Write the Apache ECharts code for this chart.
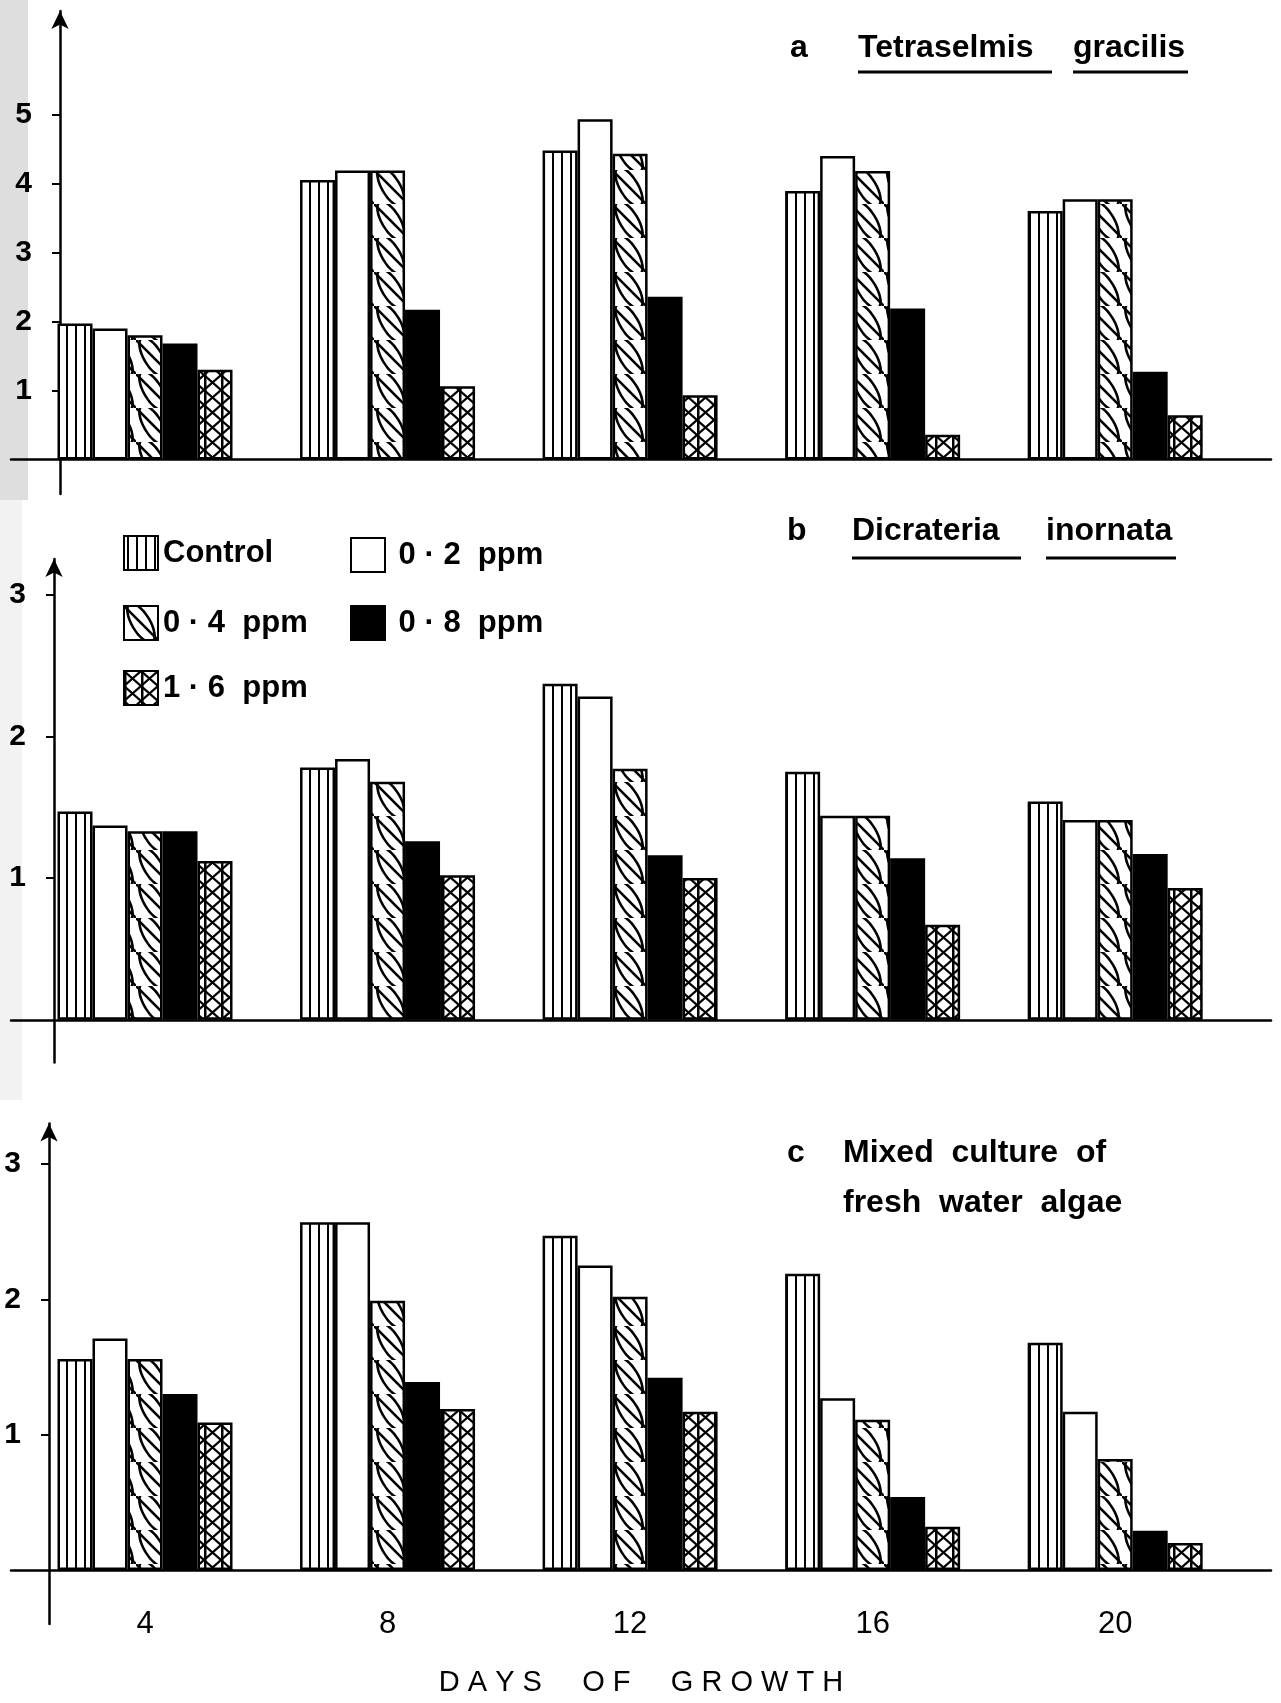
<!DOCTYPE html>
<html>
<head>
<meta charset="utf-8">
<script src="https://cdn.jsdelivr.net/npm/echarts@6/dist/echarts.min.js"></script>
<style>
html,body{margin:0;padding:0;background:#fff;}
#chart{width:1281px;height:1703px;}
</style>
</head>
<body>
<div id="chart"></div>
<script>
// ---- data ----
const days = [4, 8, 12, 16, 20];
const seriesNames = ['Control', '0 · 2  ppm', '0 · 4  ppm', '0 · 8  ppm', '1 · 6  ppm'];
const yTicksA = [1, 2, 3, 4, 5];
const yTicksBC = [1, 2, 3];

// a  Tetraselmis gracilis
const tetraControl = [1.97, 4.05, 4.48, 3.89, 3.60];
const tetra02 = [1.90, 4.19, 4.93, 4.40, 3.77];
const tetra04 = [1.80, 4.19, 4.43, 4.18, 3.77];
const tetra08 = [1.68, 2.17, 2.36, 2.19, 1.27];
const tetra16 = [1.30, 1.06, 0.93, 0.36, 0.64];

// b  Dicrateria inornata
const dicControl = [1.47, 1.78, 2.37, 1.75, 1.54];
const dic02 = [1.37, 1.84, 2.28, 1.44, 1.41];
const dic04 = [1.33, 1.68, 1.77, 1.44, 1.41];
const dic08 = [1.33, 1.26, 1.16, 1.14, 1.17];
const dic16 = [1.12, 1.02, 1.00, 0.67, 0.93];

// c  Mixed culture of fresh water algae
const mixControl = [1.56, 2.57, 2.47, 2.19, 1.68];
const mix02 = [1.71, 2.57, 2.25, 1.27, 1.17];
const mix04 = [1.56, 1.99, 2.02, 1.11, 0.82];
const mix08 = [1.30, 1.39, 1.42, 0.54, 0.29];
const mix16 = [1.09, 1.19, 1.17, 0.32, 0.20];

const panels = [
  [tetraControl, tetra02, tetra04, tetra08, tetra16],
  [dicControl, dic02, dic04, dic08, dic16],
  [mixControl, mix02, mix04, mix08, mix16]
];

// ---- patterns ----
function tile(w, h, draw) {
  const c = document.createElement('canvas');
  c.width = w; c.height = h;
  const g = c.getContext('2d');
  g.fillStyle = '#fff'; g.fillRect(0, 0, w, h);
  g.strokeStyle = '#000'; g.fillStyle = '#000';
  draw(g, w, h);
  return c;
}
const pVert = tile(9, 10, (g, w, h) => { g.fillRect(3, 0, 2, h); });
const pLens = tile(34, 34, (g, w, h) => {
  g.lineWidth = 2.6;
  g.beginPath(); g.moveTo(-2, -2); g.lineTo(w + 2, h + 2); g.stroke();
  g.save(); g.translate(w / 2, h / 2); g.rotate(Math.atan2(h, w) + 0.25);
  g.beginPath(); g.ellipse(0, 0, 22, 9, 0, 0, Math.PI * 2); g.stroke();
  g.restore();
});
const pCross = tile(17, 15, (g, w, h) => {
  g.lineWidth = 2.2;
  g.beginPath(); g.moveTo(0, 0); g.lineTo(w, h); g.moveTo(w, 0); g.lineTo(0, h); g.stroke();
  g.fillRect(0, 0, 2.5, h);
});
const fills = [
  { image: pVert, repeat: 'repeat' },
  '#ffffff',
  { image: pLens, repeat: 'repeat' },
  '#000000',
  { image: pCross, repeat: 'repeat' }
];

const FONT = 'Liberation Sans, Arial, sans-serif';
const gridsDef = [
  { top: 11, height: 483, min: -0.5, max: 6.5, offset: -49, ticks: yTicksA },
  { top: 559, height: 503.4, min: -0.3, max: 3.25, offset: -43, ticks: yTicksBC },
  { top: 1123.5, height: 500.6, min: -0.4, max: 3.3, offset: -38, ticks: yTicksBC }
];

const grid = gridsDef.map(d => ({ left: 11, width: 1260, top: d.top, height: d.height, containLabel: false, outerBoundsMode: 'none' }));
const xAxis = gridsDef.map((d, i) => ({
  type: 'value', gridIndex: i, min: 1.79, max: 22.57,
  axisLine: { onZero: true, lineStyle: { color: '#000', width: 2.5 } },
  axisTick: { show: false },
  splitLine: { show: false },
  axisLabel: i === 2 ? { show: true, customValues: days, fontSize: 31, color: '#000', fontFamily: FONT, margin: -15 } : { show: false },
  name: i === 2 ? 'D A Y S     O F     G R O W T H' : '',
  nameLocation: 'middle', nameGap: 44,
  nameTextStyle: { fontSize: 29, color: '#000', fontFamily: FONT }
}));
const yAxis = gridsDef.map((d, i) => ({
  type: 'value', gridIndex: i, min: d.min, max: d.max, offset: d.offset,
  axisLine: { show: true, symbol: ['none', 'arrow'], symbolSize: [13, 18], lineStyle: { color: '#000', width: 2.5 } },
  axisTick: { show: true, length: 8, customValues: d.ticks, lineStyle: { color: '#000', width: 2 } },
  axisLabel: { customValues: d.ticks, fontSize: 30, fontWeight: 'bold', color: '#000', fontFamily: FONT, margin: 28 },
  splitLine: { show: false }
}));

const series = [];
panels.forEach((arrs, p) => {
  arrs.forEach((vals, k) => {
    series.push({
      type: 'bar', name: seriesNames[k], xAxisIndex: p, yAxisIndex: p,
      barWidth: 35, barGap: '0%',
      data: days.map((d, j) => [d, vals[j]]),
      itemStyle: { color: fills[k], borderColor: '#000', borderWidth: 2.5 },
      emphasis: { disabled: true }
    });
  });
});

const legLeft = [118, 345, 118, 345, 118];
const legTop = [530, 532, 600, 600, 665];
const legend = seriesNames.map((n, i) => ({
  data: [n], left: legLeft[i], top: legTop[i], itemWidth: 34, itemHeight: 34, icon: 'rect',
  formatter: (i % 2 === 1) ? (s => ' ' + s) : (s => s),
  textStyle: { fontSize: 31, fontWeight: 'bold', color: '#000', fontFamily: FONT }, selectedMode: false
}));

function txt(x, y, s) {
  return { type: 'text', x: x, y: y, style: { text: s, fontSize: 32, fontWeight: 'bold', fontFamily: FONT, fill: '#000', verticalAlign: 'middle' } };
}
function uline(x1, x2, y) {
  return { type: 'line', shape: { x1: x1, y1: y, x2: x2, y2: y }, style: { stroke: '#000', lineWidth: 3 } };
}
const graphic = [
  { type: 'rect', z: -10, shape: { x: 0, y: 0, width: 28, height: 500 }, style: { fill: '#dedede' } },
  { type: 'rect', z: -10, shape: { x: 0, y: 500, width: 22, height: 600 }, style: { fill: '#f2f2f2' } },
  txt(790, 48, 'a'), txt(858, 48, 'Tetraselmis'), txt(1073, 48, 'gracilis'),
  uline(858, 1052, 72), uline(1073, 1188, 72),
  txt(787, 531, 'b'), txt(852, 531, 'Dicrateria'), txt(1046, 531, 'inornata'),
  uline(852, 1021, 558), uline(1046, 1176, 558),
  txt(787, 1153, 'c'), txt(843, 1153, 'Mixed  culture  of'), txt(843, 1203, 'fresh  water  algae')
];

const chart = echarts.init(document.getElementById('chart'), null, { renderer: 'canvas' });
chart.setOption({
  backgroundColor: '#fff',
  animation: false,
  grid: grid, xAxis: xAxis, yAxis: yAxis, series: series, legend: legend, graphic: graphic
});
</script>
</body>
</html>
